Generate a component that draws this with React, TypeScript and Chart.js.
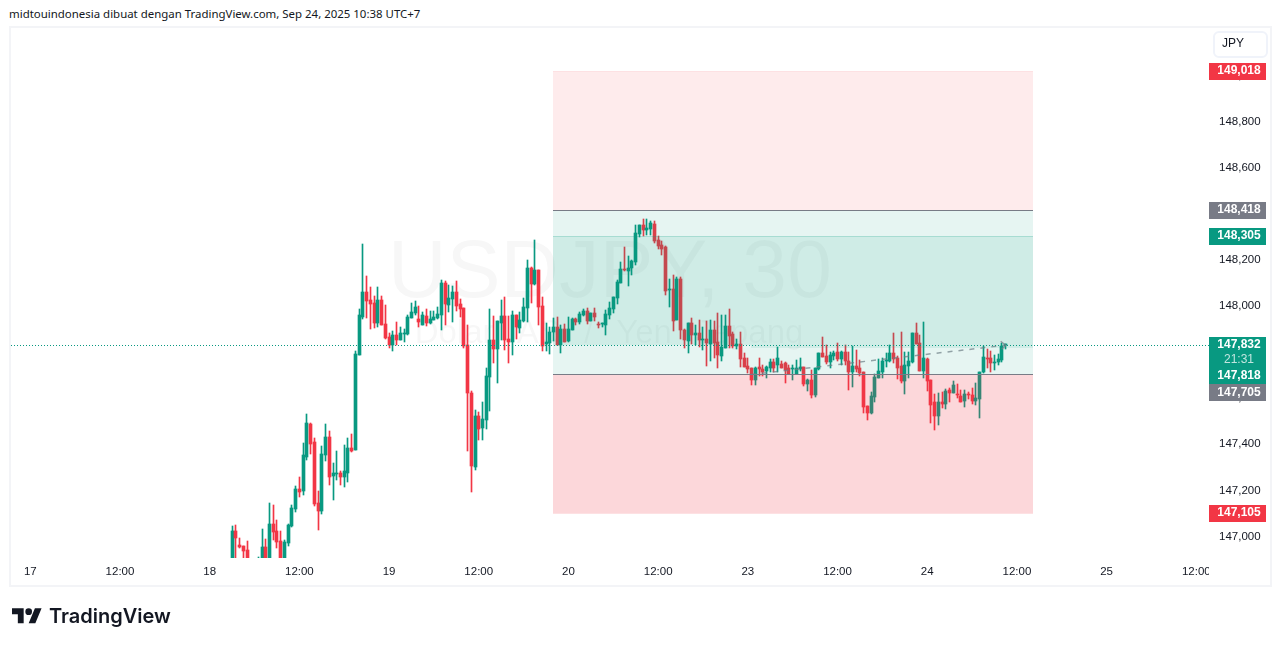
import React, { useEffect, useRef } from 'react';
import Chart from 'chart.js/auto';

// first candle sits 54 half-hour bars after the "17" tick
const firstBar = 54;

const opens = [
  146.880, 147.026, 146.965, 146.961, 146.944, 146.870, 146.850, 146.860, 146.860, 146.957,
  146.880, 147.057, 147.026, 146.983, 146.870, 146.974, 147.048, 147.122, 147.208, 147.200,
  147.347, 147.490, 147.412, 147.148, 147.113, 147.356, 147.434, 147.265, 147.274, 147.278,
  147.261, 147.278, 147.386, 147.378, 147.790, 147.955, 148.063, 148.028, 148.015, 147.929,
  148.028, 147.924, 147.868, 147.833, 147.876, 147.855, 147.881, 147.881, 147.950, 147.972, 147.946,
  147.920, 147.959, 147.928, 147.941, 147.950, 147.963, 148.102, 148.006, 148.032, 148.063,
  148.011, 147.993, 147.833, 147.625, 147.304, 147.525, 147.473, 147.507, 147.694, 147.855,
  147.815, 147.928, 147.959, 147.859, 147.846, 147.963, 147.907, 147.937, 147.993, 148.167,
  148.097, 148.158, 148.002, 147.837, 147.842, 147.889, 147.911, 147.833, 147.902, 147.850,
  147.898, 147.946, 147.933, 147.963, 147.980, 147.937, 147.972, 147.924, 147.924, 147.920,
  147.963, 147.989, 148.037, 148.102, 148.163, 148.154, 148.167, 148.193, 148.314, 148.353,
  148.332, 148.336, 148.358, 148.288, 148.267, 148.258, 148.071, 148.076, 147.941, 148.119,
  147.898, 147.850, 147.928, 147.876, 147.885, 147.855, 147.859, 147.837, 147.898, 147.846,
  147.785, 147.820, 147.915, 147.881, 147.828, 147.837, 147.776, 147.742, 147.733, 147.681,
  147.737, 147.729, 147.720, 147.733, 147.759, 147.746, 147.750, 147.755, 147.733, 147.730,
  147.707, 147.730, 147.737, 147.664, 147.681, 147.616, 147.729, 147.798, 147.785, 147.759,
  147.785, 147.803, 147.772, 147.803, 147.763, 147.716, 147.742, 147.733, 147.716, 147.568,
  147.538, 147.607, 147.690, 147.716, 147.763, 147.763, 147.798, 147.776, 147.742, 147.677,
  147.742, 147.759, 147.885, 147.842, 147.720, 147.772, 147.681, 147.586, 147.525, 147.586,
  147.577, 147.638, 147.625, 147.620, 147.612, 147.590, 147.620, 147.616, 147.590, 147.599,
  147.716, 147.776, 147.776, 147.755, 147.759, 147.768, 147.833,
];

const closes = [
  147.026, 146.997, 146.958, 146.939, 146.860, 146.850, 146.890, 146.895, 146.957, 146.870,
  147.057, 147.022, 146.979, 146.870, 146.979, 147.052, 147.126, 147.208, 147.195, 147.356,
  147.495, 147.404, 147.143, 147.113, 147.360, 147.434, 147.261, 147.278, 147.278, 147.261,
  147.287, 147.386, 147.373, 147.794, 147.963, 148.063, 148.024, 148.011, 147.929, 148.028,
  147.920, 147.863, 147.833, 147.876, 147.855, 147.885, 147.885, 147.955, 147.976, 147.998, 147.933,
  147.963, 147.928, 147.946, 147.954, 147.967, 148.102, 148.011, 148.037, 148.063, 148.002,
  147.989, 147.828, 147.625, 147.308, 147.525, 147.468, 147.512, 147.698, 147.855, 147.815,
  147.937, 147.959, 147.855, 147.846, 147.963, 147.911, 147.941, 147.998, 148.167, 148.097,
  148.158, 147.998, 147.828, 147.846, 147.889, 147.911, 147.833, 147.902, 147.846, 147.902,
  147.946, 147.933, 147.967, 147.980, 147.937, 147.972, 147.954, 147.921, 147.927, 147.967,
  147.993, 148.041, 148.106, 148.163, 148.158, 148.167, 148.197, 148.319, 148.353, 148.332,
  148.340, 148.362, 148.284, 148.262, 148.249, 148.067, 148.074, 147.937, 148.119, 147.898,
  147.855, 147.928, 147.876, 147.885, 147.855, 147.859, 147.842, 147.898, 147.842, 147.789,
  147.824, 147.915, 147.872, 147.828, 147.837, 147.772, 147.737, 147.729, 147.681, 147.733,
  147.729, 147.716, 147.737, 147.759, 147.733, 147.776, 147.733, 147.724, 147.707, 147.733,
  147.733, 147.737, 147.664, 147.681, 147.616, 147.733, 147.798, 147.781, 147.759, 147.789,
  147.798, 147.772, 147.803, 147.763, 147.716, 147.742, 147.729, 147.711, 147.564, 147.538,
  147.612, 147.694, 147.720, 147.763, 147.768, 147.798, 147.772, 147.733, 147.677, 147.746,
  147.763, 147.885, 147.837, 147.720, 147.776, 147.677, 147.573, 147.525, 147.586, 147.577,
  147.633, 147.625, 147.659, 147.616, 147.586, 147.620, 147.616, 147.590, 147.603, 147.716,
  147.781, 147.772, 147.755, 147.759, 147.772, 147.828, 147.837,
];

const highs = [
  147.048, 147.052, 146.994, 146.961, 146.983, 146.905, 146.905, 146.912, 147.035, 146.992,
  147.148, 147.139, 147.074, 147.026, 146.987, 147.057, 147.139, 147.221, 147.261, 147.408,
  147.534, 147.495, 147.430, 147.200, 147.395, 147.490, 147.460, 147.321, 147.373, 147.287,
  147.399, 147.430, 147.447, 147.807, 147.989, 148.271, 148.132, 148.085, 148.046, 148.085,
  148.046, 148.007, 147.885, 147.894, 147.933, 147.911, 147.903, 147.963, 148.015, 148.024, 148.002,
  147.976, 147.989, 147.980, 147.980, 147.998, 148.115, 148.110, 148.093, 148.089, 148.110,
  148.032, 147.993, 147.920, 147.633, 147.551, 147.542, 147.586, 147.733, 147.989, 147.959,
  147.937, 148.028, 148.041, 147.959, 147.980, 147.963, 147.976, 148.037, 148.202, 148.171,
  148.288, 148.158, 148.041, 147.928, 147.911, 147.950, 147.954, 147.920, 147.924, 147.954,
  147.950, 147.950, 147.976, 147.989, 147.993, 147.972, 147.993, 147.933, 147.928, 147.985,
  148.019, 148.041, 148.115, 148.194, 148.258, 148.219, 148.202, 148.353, 148.353, 148.379,
  148.379, 148.371, 148.371, 148.306, 148.284, 148.262, 148.119, 148.136, 148.128, 148.128,
  147.902, 147.928, 147.950, 147.920, 147.941, 147.911, 147.937, 147.941, 147.937, 147.972,
  147.963, 147.963, 147.989, 147.889, 147.859, 147.889, 147.798, 147.776, 147.733, 147.737,
  147.776, 147.746, 147.742, 147.772, 147.772, 147.824, 147.763, 147.759, 147.746, 147.746,
  147.768, 147.776, 147.737, 147.685, 147.724, 147.733, 147.798, 147.868, 147.833, 147.803,
  147.807, 147.842, 147.807, 147.833, 147.803, 147.828, 147.811, 147.768, 147.716, 147.568,
  147.629, 147.707, 147.772, 147.776, 147.798, 147.833, 147.885, 147.785, 147.889, 147.803,
  147.803, 147.885, 147.928, 147.876, 147.933, 147.776, 147.681, 147.620, 147.625, 147.629,
  147.642, 147.646, 147.677, 147.664, 147.638, 147.638, 147.629, 147.646, 147.668, 147.716,
  147.828, 147.815, 147.807, 147.789, 147.794, 147.842, 147.837,
];

const lows = [
  146.860, 146.880, 146.954, 146.880, 146.840, 146.830, 146.830, 146.840, 146.840, 146.850,
  146.860, 146.987, 146.953, 146.850, 146.850, 146.961, 147.044, 147.109, 147.174, 147.182,
  147.334, 147.360, 147.135, 147.031, 147.100, 147.330, 147.226, 147.161, 147.247, 147.226,
  147.217, 147.239, 147.369, 147.378, 147.790, 147.946, 147.950, 147.903, 147.907, 147.911,
  147.920, 147.859, 147.820, 147.807, 147.833, 147.855, 147.846, 147.877, 147.950, 147.963, 147.911,
  147.920, 147.915, 147.924, 147.941, 147.946, 147.898, 147.920, 147.976, 147.933, 147.980,
  147.954, 147.820, 147.373, 147.195, 147.291, 147.421, 147.421, 147.468, 147.547, 147.755,
  147.668, 147.855, 147.811, 147.755, 147.789, 147.859, 147.885, 147.933, 147.933, 148.015,
  148.093, 147.920, 147.807, 147.807, 147.794, 147.850, 147.833, 147.798, 147.846, 147.846,
  147.898, 147.920, 147.924, 147.959, 147.924, 147.937, 147.937, 147.907, 147.911, 147.876,
  147.946, 147.972, 148.011, 148.102, 148.154, 148.089, 148.136, 148.180, 148.301, 148.306,
  148.310, 148.310, 148.275, 148.249, 148.223, 148.050, 147.998, 147.894, 147.941, 147.859,
  147.820, 147.798, 147.837, 147.833, 147.824, 147.811, 147.742, 147.763, 147.776, 147.733,
  147.763, 147.820, 147.820, 147.820, 147.815, 147.737, 147.737, 147.711, 147.659, 147.659,
  147.698, 147.698, 147.690, 147.716, 147.716, 147.716, 147.733, 147.668, 147.707, 147.681,
  147.707, 147.720, 147.655, 147.633, 147.603, 147.607, 147.724, 147.781, 147.750, 147.733,
  147.768, 147.763, 147.746, 147.746, 147.638, 147.651, 147.716, 147.698, 147.538, 147.508,
  147.534, 147.586, 147.690, 147.690, 147.737, 147.759, 147.755, 147.685, 147.668, 147.620,
  147.690, 147.755, 147.837, 147.720, 147.690, 147.633, 147.494, 147.464, 147.486, 147.560,
  147.555, 147.586, 147.625, 147.603, 147.586, 147.564, 147.599, 147.577, 147.573, 147.516,
  147.711, 147.733, 147.716, 147.724, 147.746, 147.759, 147.815,
];

const xTickBars = [0, 24, 48, 72, 96, 120, 144, 168, 192, 216, 240, 264, 288, 312];
const xTickLabels = ['17', '12:00', '18', '12:00', '19', '12:00', '20', '12:00', '23', '12:00', '24', '12:00', '25', '12:00'];

const yTickValues = [147.0, 147.2, 147.4, 147.6, 147.8, 148.0, 148.2, 148.4, 148.6, 148.8, 149.0];
const yTickLabels = ['147,000', '147,200', '147,400', '147,600', '147,800', '148,000', '148,200', '148,400', '148,600', '148,800', '149,000'];

// position tool levels
const targetTop = 149.018;
const targetBottom = 148.418;
const fillTop = 148.305;
const lastPrice = 147.832;
const prevPrice = 147.818;
const entryPrice = 147.705;
const stopBottom = 147.105;
const boxStartBar = 139.85;
const boxStepBar = 192.8;
const boxEndBar = 268.3;

const pathBars = [192.8, 261];
const pathPrices = [147.705, 147.832];

const GREEN = '#089981';
const RED = '#f23645';
const GREY = '#787b86';
const TEXT = '#131722';
const UI_FONT = '"Liberation Sans", Arial, sans-serif';

const candlePixels = {
  id: 'candlePixels',
  afterDatasetsUpdate(chart: any) {
    chart.data.datasets.forEach((ds: any, i: number) => {
      if (ds.type === 'line') return;
      chart.getDatasetMeta(i).data.forEach((el: any) => {
        el.x = Math.floor(el.x) + 0.5;
        el.y = Math.round(el.y);
        el.base = Math.round(el.base);
        if (el.base === el.y) el.base = el.y + 1;
      });
    });
  },
};

const tag = (ctx: any, x: number, top: number, w: number, h: number, color: string) => {
  ctx.fillStyle = color;
  ctx.fillRect(x, top, w, h);
};

const tagText = (ctx: any, text: string, y: number, color = '#fff', weight = 'bold') => {
  ctx.font = `${weight} 12px ${UI_FONT}`;
  ctx.textAlign = 'center';
  ctx.textBaseline = 'middle';
  ctx.fillStyle = color;
  ctx.fillText(text, 1239, y);
};

const overlays = {
  id: 'overlays',
  beforeDatasetsDraw(chart: any) {
    const { ctx } = chart;
    ctx.save();
    ctx.textAlign = 'center';
    ctx.textBaseline = 'alphabetic';
    ctx.fillStyle = 'rgba(19,23,34,0.035)';
    ctx.font = `81px ${UI_FONT}`;
    ctx.fillText('USDJPY, 30', 610, 297);
    ctx.font = `33px ${UI_FONT}`;
    ctx.wordSpacing = '14px';
    ctx.fillText('Dolar AS / Yen Jepang', 609, 343);
    ctx.restore();
  },
  afterDatasetsDraw(chart: any) {
    const { ctx, scales } = chart;
    const { x, y } = scales;
    const left = Math.round(x.getPixelForValue(boxStartBar));
    const right = Math.round(x.getPixelForValue(boxEndBar));
    const step = Math.round(x.getPixelForValue(boxStepBar));
    const py = (v: number) => Math.round(y.getPixelForValue(v));
    const zone = (l: number, r: number, a: number, b: number, color: string) => {
      ctx.fillStyle = color;
      ctx.fillRect(l, py(a), r - l, py(b) - py(a));
    };
    ctx.save();
    // the tool sits on top of the candles, that is why they look muted inside it
    zone(left, right, targetTop, targetBottom, 'rgba(242,54,69,0.1)');
    zone(left, right, targetBottom, entryPrice, 'rgba(8,153,129,0.1)');
    zone(left, step, fillTop, lastPrice, 'rgba(8,153,129,0.1)');
    zone(step, right, fillTop, prevPrice, 'rgba(8,153,129,0.1)');
    zone(left, right, entryPrice, stopBottom, 'rgba(242,54,69,0.2)');
    // pale outer edges of the tool
    ctx.fillStyle = 'rgba(242,54,69,0.15)';
    ctx.fillRect(left, py(targetTop) - 1, right - left, 1);
    ctx.fillRect(left, py(stopBottom), right - left, 1);

    const hLine = (v: number, color: string, l: number, r: number, dash: number[] = []) => {
      ctx.beginPath();
      ctx.setLineDash(dash);
      ctx.strokeStyle = color;
      ctx.lineWidth = 1;
      ctx.moveTo(l, py(v) + 0.5);
      ctx.lineTo(r, py(v) + 0.5);
      ctx.stroke();
    };
    hLine(fillTop, 'rgba(8,153,129,0.2)', left, right);
    hLine(targetBottom, GREY, left, right);
    hLine(entryPrice, GREY, left, right);
    hLine(lastPrice, GREEN, chart.chartArea.left, chart.chartArea.right, [1, 2]);

    // arrow head of the path
    const ax = x.getPixelForValue(pathBars[1]);
    const ay = y.getPixelForValue(pathPrices[1]);
    ctx.beginPath();
    ctx.setLineDash([]);
    ctx.strokeStyle = 'rgba(120,123,134,0.7)';
    ctx.lineWidth = 1.5;
    ctx.moveTo(ax - 5, ay - 4);
    ctx.lineTo(ax, ay);
    ctx.lineTo(ax - 4, ay + 4);
    ctx.stroke();
    ctx.restore();
  },
  afterDraw(chart: any) {
    const { ctx, scales } = chart;
    const py = (v: number) => Math.round(scales.y.getPixelForValue(v));
    ctx.save();
    // last time label is cut where the price scale begins
    ctx.fillStyle = '#fff';
    ctx.fillRect(1209, 560, 12, 22);

    ctx.strokeStyle = '#f0f3fa';
    ctx.lineWidth = 2;
    ctx.beginPath();
    ctx.roundRect(1214, 32, 53, 25, 5);
    ctx.stroke();
    ctx.font = `12px ${UI_FONT}`;
    ctx.textAlign = 'left';
    ctx.textBaseline = 'middle';
    ctx.fillStyle = TEXT;
    ctx.fillText('JPY', 1222, 44);

    const single = (v: number, text: string, color: string, shift = 0) => {
      const top = py(v) - 8 + shift;
      tag(ctx, 1209, top, 57, 17, color);
      tagText(ctx, text, top + 8);
    };
    single(targetTop, '149,018', RED, -1);
    single(targetBottom, '148,418', GREY);
    single(fillTop, '148,305', GREEN);
    single(stopBottom, '147,105', RED);

    tag(ctx, 1209, 337, 57, 47, GREEN);
    tagText(ctx, '147,832', 345);
    tagText(ctx, '21:31', 360, 'rgba(255,255,255,0.75)', 'normal');
    tagText(ctx, '147,818', 376);
    tag(ctx, 1209, 384, 57, 17, GREY);
    tagText(ctx, '147,705', 393);
    ctx.restore();
  },
};

export default function App() {
  const canvasRef = useRef<HTMLCanvasElement>(null);
  const chartRef = useRef<Chart | null>(null);

  useEffect(() => {
    if (!canvasRef.current) return;
    if (chartRef.current) chartRef.current.destroy();
    const ctx = canvasRef.current.getContext('2d');
    if (!ctx) return;

    const wickData = highs.map((h, i) => ({ x: firstBar + i, y: [lows[i], h] }));
    const bodyData = opens.map((o, i) => ({ x: firstBar + i, y: [o, closes[i]] }));
    const colors = opens.map((o, i) => (closes[i] >= o ? GREEN : RED));

    chartRef.current = new Chart(ctx, {
      type: 'bar',
      data: {
        datasets: [
          {
            type: 'line',
            label: 'path',
            data: pathBars.map((b, i) => ({ x: b, y: pathPrices[i] })),
            borderColor: 'rgba(120,123,134,0.7)',
            borderWidth: 1.5,
            borderDash: [5, 6],
            pointRadius: 0,
            order: 0,
          },
          {
            label: 'bodies',
            data: bodyData,
            backgroundColor: colors,
            barThickness: 3,
            grouped: false,
            minBarLength: 1,
            order: 1,
          },
          {
            label: 'wicks',
            data: wickData,
            backgroundColor: colors,
            barThickness: 1,
            grouped: false,
            order: 2,
          },
        ],
      } as any,
      options: {
        responsive: false,
        animation: false,
        layout: { padding: { left: 11, top: 28, right: 9, bottom: 61 } },
        plugins: { legend: { display: false }, tooltip: { enabled: false } },
        scales: {
          x: {
            type: 'linear',
            offset: false,
            min: -5.164,
            max: 315.4,
            grid: { display: false, drawTicks: false },
            border: { display: false },
            afterBuildTicks: (axis: any) => {
              axis.ticks = xTickBars.map((value) => ({ value }));
            },
            afterFit: (axis: any) => {
              axis.height = 27;
            },
            ticks: {
              autoSkip: false,
              maxRotation: 0,
              padding: 7,
              color: TEXT,
              font: { family: UI_FONT, size: 11.5 },
              callback: (v: any) => xTickLabels[xTickBars.indexOf(v)],
            },
          },
          y: {
            position: 'right',
            min: 146.909,
            max: 149.208,
            grid: { display: false, drawTicks: false },
            border: { display: false },
            afterBuildTicks: (axis: any) => {
              axis.ticks = yTickValues.map((value) => ({ value }));
            },
            afterFit: (axis: any) => {
              axis.width = 63;
            },
            ticks: {
              autoSkip: false,
              padding: 10,
              labelOffset: -0.5,
              color: TEXT,
              font: { family: UI_FONT, size: 11.5 },
              callback: (v: any) => yTickLabels[yTickValues.indexOf(v)],
            },
          },
        },
      } as any,
      plugins: [candlePixels, overlays],
    });

    return () => {
      if (chartRef.current) {
        chartRef.current.destroy();
        chartRef.current = null;
      }
    };
  }, []);

  return (
    <div style={{ position: 'absolute', left: 0, top: 0, width: 1281, height: 646, background: '#fff', overflow: 'hidden' }}>
      <div style={{ position: 'absolute', left: 9, top: 7, fontFamily: '"Noto Sans", sans-serif', fontSize: 11.45, lineHeight: '14px', color: TEXT, whiteSpace: 'nowrap' }}>
        midtouindonesia dibuat dengan TradingView.com, Sep 24, 2025 10:38 UTC+7
      </div>
      <div style={{ position: 'absolute', left: 9, top: 26, width: 1259, height: 557, border: '2px solid #f3f4f7' }} />
      <canvas ref={canvasRef} width={1281} height={646} style={{ position: 'absolute', left: 0, top: 0, width: 1281, height: 646 }} />
      <svg style={{ position: 'absolute', left: 12, top: 605 }} width={30} height={20} viewBox="0 0 36 24">
        <path d="M14 22H7V11H0V4h14v18zM28 22h-8l7.5-18h8L28 22z" fill="#131722" />
        <circle cx={20} cy={8} r={4} fill="#131722" />
      </svg>
      <div style={{ position: 'absolute', left: 49, top: 603, fontFamily: 'Inter, sans-serif', fontWeight: 600, fontSize: 20, lineHeight: '26px', color: '#131722', whiteSpace: 'nowrap' }}>
        TradingView
      </div>
    </div>
  );
}
